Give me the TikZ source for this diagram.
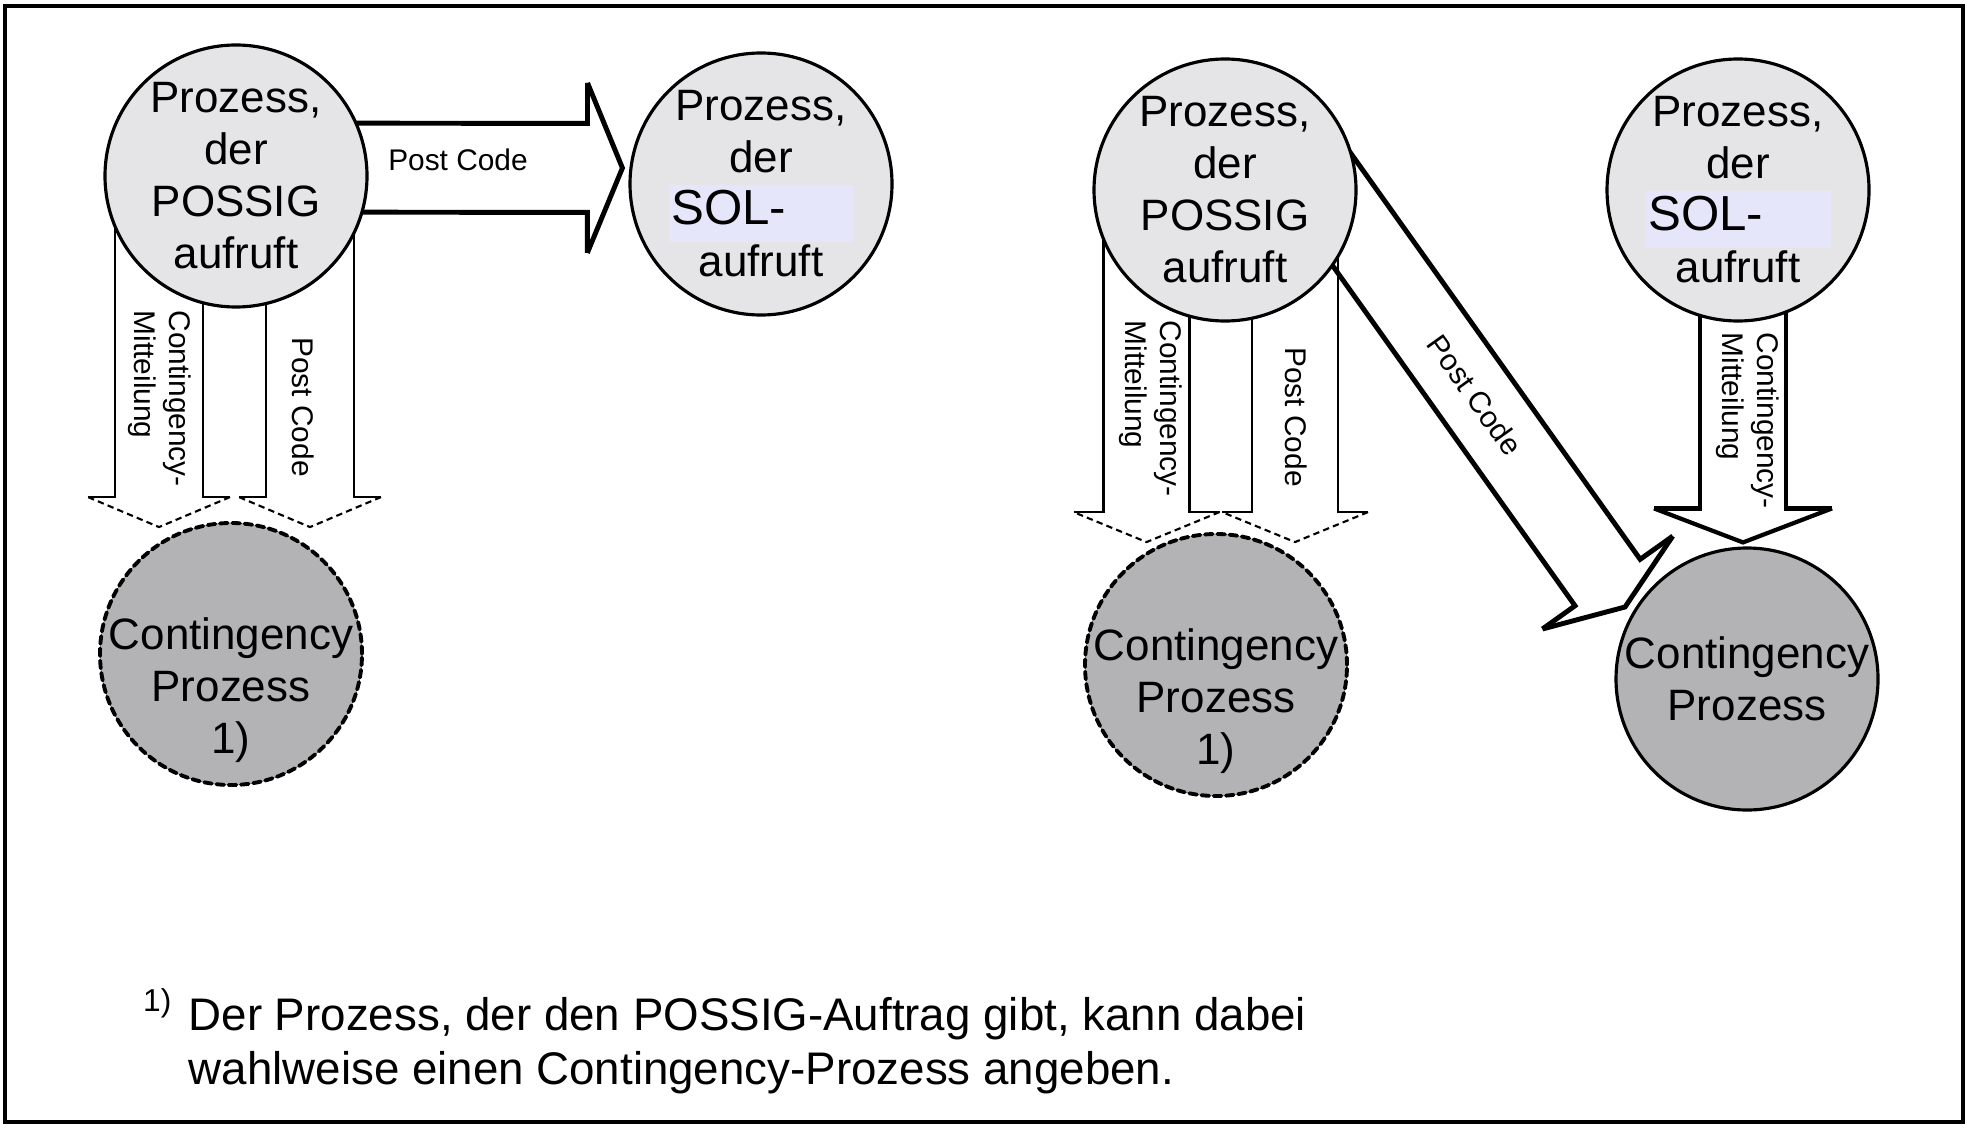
\documentclass[tikz,border=0pt]{standalone}
\usepackage{fontspec}
\setmainfont{Liberation Sans}
\usetikzlibrary{calc}
\usetikzlibrary{positioning}
\usetikzlibrary{backgrounds}

\definecolor{procgray}{RGB}{229,229,231}
\definecolor{contgray}{RGB}{179,179,182}
\definecolor{solmark}{RGB}{230,230,250}

\newcommand{\circfont}{\fontsize{12.5}{14.8}\selectfont}
\newcommand{\labelfont}{\fontsize{8.5}{10}\selectfont}

\tikzset{
    process/.style={
           circle,
           draw=black, line width=0.9pt,
           fill=procgray,
           minimum size=2.62cm,
           inner sep=0pt,
           align=center,
           font=\circfont,
           },
    contingency/.style={
           process,
           fill=contgray,
           },
    optional/.style={
           dash pattern=on 2.2pt off 1.3pt,
           line width=1.1pt,
           },
    circtext/.style={
           inner sep=0pt,
           align=center,
           font=\circfont,
           },
    arrowtext/.style={
           inner sep=0pt,
           align=left,
           font=\labelfont,
           },
    dashedhead/.style={
           dash pattern=on 1.8pt off 1.2pt,
           },
}

% block arrow from #3 to its tip #4
% #5 half width of shaft, #6 half width of head, #7 length of head
\newcommand{\blockarrow}[7][]{%
  \draw[#2] let \p1=(#3), \p2=(#4),
      \n1={atan2(\y2-\y1,\x2-\x1)}, \n2={veclen(\x2-\x1,\y2-\y1)} in
    ($(\p1)+(\n1+90:#5)$) -- ($(\p1)+(\n1:\n2-#7)+(\n1+90:#5)$)
      -- ($(\p1)+(\n1:\n2-#7)+(\n1+90:#6)$) coordinate (heada)
    ($(\p1)+(\n1-90:#5)$) -- ($(\p1)+(\n1:\n2-#7)+(\n1-90:#5)$)
      -- ($(\p1)+(\n1:\n2-#7)+(\n1-90:#6)$) coordinate (headb);
  \draw[#2,#1] (heada) -- (#4) -- (headb);
}

% the SOL- line with its marker
\newcommand{\solbox}{\makebox[1.6cm]{\setlength{\fboxsep}{0pt}%
  \colorbox{solmark}{\rule[-0.17cm]{0pt}{0.57cm}%
  \makebox[1.85cm][l]{\hspace{0.03cm}\fontsize{14}{14}\selectfont SOL-}}}}

\begin{document}
\begin{tikzpicture}[line cap=round]

 \useasboundingbox (0,0) rectangle (19.70,-11.29);

 % left case: calling process
 \node[process] (possigA) at (2.36,-1.76) {Prozess,\\der\\POSSIG\\aufruft};

 % process that calls SOL
 \node[process,
  right of=possigA,
  node distance=5.25cm,
  yshift=-0.08cm] (solA) {Prozess,\\der\\\solbox\\aufruft};

 % optional contingency process
 \node[contingency, optional,
  below of=possigA,
  node distance=4.78cm,
  xshift=-0.05cm] (contA) {};
 \node[circtext] (contAtext) at ([yshift=-0.36cm]contA.center) {Contingency\\Prozess\\1)};

 % right case: calling process
 \node[process] (possigB) at (12.25,-1.90) {Prozess,\\der\\POSSIG\\aufruft};

 \node[process,
  right of=possigB,
  node distance=5.13cm] (solB) {Prozess,\\der\\\solbox\\aufruft};

 \node[contingency, optional,
  below of=possigB,
  node distance=4.75cm,
  xshift=-0.09cm] (contB) {};
 \node[circtext] (contBtext) at ([yshift=-0.36cm]contB.center) {Contingency\\Prozess\\1)};

 % contingency process of the SOL process
 \node[contingency,
  below of=solB,
  node distance=4.89cm,
  xshift=0.09cm] (contC) {Contingency\\Prozess};

 % frame and block arrows behind the circles
 \begin{pgfonlayer}{background}
  \draw[line width=0.9pt, fill=white] (0.05,-0.06) rectangle (19.63,-11.22);

  \blockarrow{line width=1.4pt}{$(possigA.center)+(0,0.085)$}{$(solA.west)+(-0.06,0.16)$}{0.445cm}{0.85cm}{0.35cm}
  \blockarrow[dashedhead]{line width=0.6pt}{$(possigA.center)+(-0.77,0)$}{$(contA.north)+(-0.72,-0.06)$}{0.44cm}{0.71cm}{0.30cm}
  \blockarrow[dashedhead]{line width=0.6pt}{$(possigA.center)+(0.74,0)$}{$(contA.north)+(0.79,-0.06)$}{0.44cm}{0.71cm}{0.30cm}

  \blockarrow[dashedhead]{line width=0.6pt}{$(possigB.center)+(-0.785,0)$}{$(contB.north)+(-0.695,-0.10)$}{0.43cm}{0.73cm}{0.30cm}
  \blockarrow[dashedhead]{line width=0.6pt}{$(possigB.center)+(0.70,0)$}{$(contB.north)+(0.79,-0.10)$}{0.43cm}{0.73cm}{0.30cm}
  \blockarrow{line width=1.4pt}{$(possigB.center)+(0.75,0.39)$}{$(contC.center)+(-1.22,0.72)$}{0.40cm}{0.80cm}{0.30cm}
  \blockarrow{line width=1.2pt}{$(solB.center)+(0.05,0)$}{$(contC.north)+(-0.04,0.04)$}{0.43cm}{0.89cm}{0.34cm}
 \end{pgfonlayer}

 % texts in the arrows
 \node[arrowtext] (pcAB) at ($(possigA.center)+(2.22,0.16)$) {Post Code};
 \node[arrowtext, rotate=-90, anchor=west] (cmA) at ($(possigA.center)+(-0.765,-1.34)$) {Contingency-\\Mitteilung};
 \node[arrowtext, rotate=-90] (pcA) at ($(possigA.center)+(0.67,-2.31)$) {Post Code};

 \node[arrowtext, rotate=-90, anchor=west] (cmB) at ($(possigB.center)+(-0.74,-1.30)$) {Contingency-\\Mitteilung};
 \node[arrowtext, rotate=-90] (pcB) at ($(possigB.center)+(0.71,-2.27)$) {Post Code};
 \node[arrowtext, rotate=-54.5] (pcBC) at ($(possigB.center)+(2.50,-2.05)$) {Post Code};
 \node[arrowtext, rotate=-90, anchor=west] (cmC) at ($(solB.center)+(0.10,-1.42)$) {Contingency-\\Mitteilung};

 % footnote
 \node[inner sep=0pt, align=left, anchor=north west,
  font=\fontsize{13}{15.3}\selectfont] (fnote) at (1.88,-9.97)
  {Der Prozess, der den POSSIG-Auftrag gibt, kann dabei\\wahlweise einen Contingency-Prozess angeben.};
 \node[inner sep=0pt, anchor=north east, font=\fontsize{9}{9}\selectfont] (fnmark)
  at ([xshift=-0.16cm, yshift=0.09cm]fnote.north west) {1)};

\end{tikzpicture}
\end{document}
